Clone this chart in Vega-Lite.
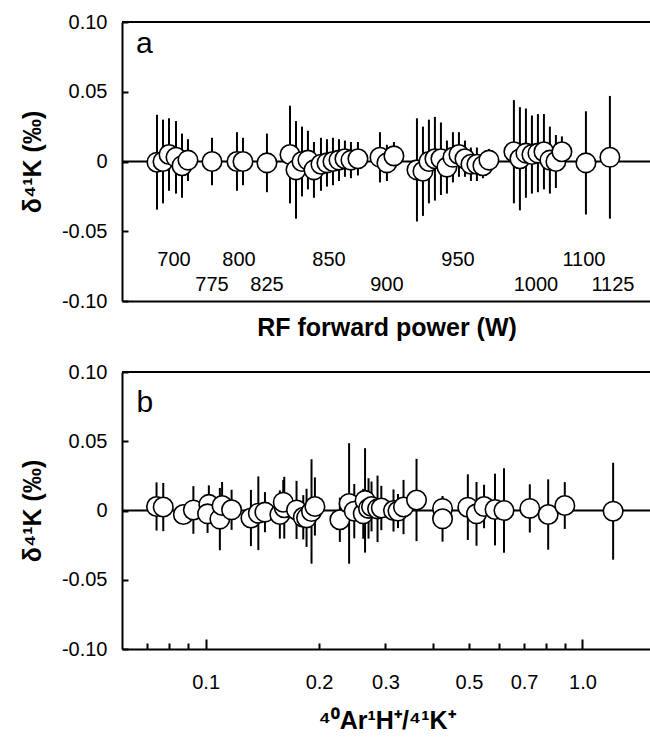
{
  "$schema": "https://vega.github.io/schema/vega-lite/v6.json",
  "background": "white",
  "padding": {"left": 20, "top": 12, "right": 0, "bottom": 0},
  "spacing": 22,
  "config": {
    "font": "Liberation Sans",
    "view": {"stroke": null},
    "axis": {
      "grid": false,
      "domainColor": "black",
      "domainWidth": 2,
      "tickColor": "black",
      "tickWidth": 2,
      "labelColor": "black",
      "titleColor": "black",
      "labelFont": "Liberation Sans",
      "titleFont": "Liberation Sans",
      "labelFontSize": 20,
      "titleFontSize": 25,
      "titleFontWeight": "bold"
    }
  },
  "datasets": {
    "pa": [
      {"run": 6.64, "d": -0.0005, "e": 0.034},
      {"run": 7.78, "d": 0.0, "e": 0.030},
      {"run": 8.92, "d": 0.005, "e": 0.026},
      {"run": 10.25, "d": 0.003, "e": 0.026},
      {"run": 11.39, "d": -0.003, "e": 0.023},
      {"run": 12.52, "d": 0.001, "e": 0.015},
      {"run": 17.08, "d": 0.0, "e": 0.017},
      {"run": 21.82, "d": 0.0, "e": 0.021},
      {"run": 22.96, "d": 0.0, "e": 0.017},
      {"run": 27.51, "d": -0.001, "e": 0.021},
      {"run": 31.88, "d": 0.005, "e": 0.035},
      {"run": 33.02, "d": -0.006, "e": 0.035},
      {"run": 34.16, "d": 0.0, "e": 0.025},
      {"run": 35.29, "d": 0.001, "e": 0.021},
      {"run": 36.43, "d": -0.006, "e": 0.020},
      {"run": 37.76, "d": -0.002, "e": 0.019},
      {"run": 38.90, "d": -0.001, "e": 0.017},
      {"run": 40.04, "d": 0.0, "e": 0.017},
      {"run": 41.18, "d": 0.001, "e": 0.015},
      {"run": 42.31, "d": 0.002, "e": 0.013},
      {"run": 43.45, "d": 0.001, "e": 0.013},
      {"run": 44.78, "d": 0.002, "e": 0.012},
      {"run": 48.96, "d": 0.003, "e": 0.018},
      {"run": 50.28, "d": -0.001, "e": 0.013},
      {"run": 51.61, "d": 0.004, "e": 0.010},
      {"run": 55.98, "d": -0.006, "e": 0.037},
      {"run": 57.12, "d": -0.007, "e": 0.032},
      {"run": 58.25, "d": 0.0, "e": 0.030},
      {"run": 59.39, "d": 0.002, "e": 0.030},
      {"run": 60.53, "d": 0.002, "e": 0.026},
      {"run": 61.67, "d": -0.004, "e": 0.019},
      {"run": 62.81, "d": 0.003, "e": 0.018},
      {"run": 63.95, "d": 0.005, "e": 0.016},
      {"run": 65.09, "d": 0.002, "e": 0.013},
      {"run": 66.22, "d": -0.002, "e": 0.012},
      {"run": 67.36, "d": -0.002, "e": 0.012},
      {"run": 68.50, "d": -0.003, "e": 0.009},
      {"run": 69.64, "d": 0.001, "e": 0.008},
      {"run": 74.38, "d": 0.007, "e": 0.037},
      {"run": 75.52, "d": 0.002, "e": 0.037},
      {"run": 76.66, "d": 0.006, "e": 0.032},
      {"run": 77.80, "d": 0.005, "e": 0.028},
      {"run": 78.94, "d": 0.006, "e": 0.028},
      {"run": 80.08, "d": 0.007, "e": 0.027},
      {"run": 81.21, "d": 0.001, "e": 0.024},
      {"run": 82.35, "d": 0.0, "e": 0.019},
      {"run": 83.49, "d": 0.007, "e": 0.011},
      {"run": 88.05, "d": -0.001, "e": 0.037},
      {"run": 92.60, "d": 0.003, "e": 0.044}
    ],
    "palabels": [
      {"run": 9.87, "d": -0.0707, "power": "700"},
      {"run": 22.2, "d": -0.0707, "power": "800"},
      {"run": 39.28, "d": -0.0707, "power": "850"},
      {"run": 63.76, "d": -0.0707, "power": "950"},
      {"run": 87.67, "d": -0.0707, "power": "1100"},
      {"run": 17.08, "d": -0.0883, "power": "775"},
      {"run": 27.51, "d": -0.0883, "power": "825"},
      {"run": 50.28, "d": -0.0883, "power": "900"},
      {"run": 78.56, "d": -0.0883, "power": "1000"},
      {"run": 93.17, "d": -0.0883, "power": "1125"}
    ],
    "pb": [
      {"ratio": 0.0741, "d": 0.0029, "e": 0.0174},
      {"ratio": 0.0772, "d": 0.0025, "e": 0.0174},
      {"ratio": 0.0873, "d": -0.0029, "e": 0.006},
      {"ratio": 0.0928, "d": 0.0004, "e": 0.0172},
      {"ratio": 0.102, "d": 0.0044, "e": 0.0138},
      {"ratio": 0.1012, "d": -0.0024, "e": 0.0138},
      {"ratio": 0.1091, "d": -0.0062, "e": 0.0225},
      {"ratio": 0.1106, "d": 0.0036, "e": 0.017},
      {"ratio": 0.1172, "d": 0.0005, "e": 0.0145},
      {"ratio": 0.1319, "d": -0.0054, "e": 0.0203},
      {"ratio": 0.138, "d": -0.002, "e": 0.0266},
      {"ratio": 0.1437, "d": -0.0012, "e": 0.0145},
      {"ratio": 0.1574, "d": -0.0029, "e": 0.0174},
      {"ratio": 0.1617, "d": 0.002, "e": 0.0223},
      {"ratio": 0.1607, "d": 0.006, "e": 0.016},
      {"ratio": 0.1743, "d": 0.0004, "e": 0.021},
      {"ratio": 0.1816, "d": -0.0049, "e": 0.016},
      {"ratio": 0.1853, "d": -0.0053, "e": 0.021},
      {"ratio": 0.191, "d": -0.0007, "e": 0.0377},
      {"ratio": 0.195, "d": 0.0029, "e": 0.021},
      {"ratio": 0.2271, "d": -0.0067, "e": 0.016},
      {"ratio": 0.2403, "d": 0.0051, "e": 0.0435},
      {"ratio": 0.248, "d": -0.0005, "e": 0.0196},
      {"ratio": 0.262, "d": -0.0024, "e": 0.018},
      {"ratio": 0.2649, "d": 0.0073, "e": 0.0377},
      {"ratio": 0.2706, "d": 0.0015, "e": 0.0218},
      {"ratio": 0.2756, "d": 0.0029, "e": 0.018},
      {"ratio": 0.2859, "d": 0.0012, "e": 0.024},
      {"ratio": 0.2926, "d": 0.0018, "e": 0.016},
      {"ratio": 0.3152, "d": 0.0, "e": 0.0152},
      {"ratio": 0.324, "d": -0.0004, "e": 0.0123},
      {"ratio": 0.3351, "d": 0.0025, "e": 0.0196},
      {"ratio": 0.3628, "d": 0.0076, "e": 0.0297},
      {"ratio": 0.4253, "d": 0.0015, "e": 0.008},
      {"ratio": 0.4253, "d": -0.006, "e": 0.0165},
      {"ratio": 0.4964, "d": 0.0024, "e": 0.0237},
      {"ratio": 0.5234, "d": -0.0024, "e": 0.023},
      {"ratio": 0.5481, "d": 0.0029, "e": 0.0157},
      {"ratio": 0.5861, "d": 0.0007, "e": 0.0259},
      {"ratio": 0.6191, "d": 0.0, "e": 0.0305},
      {"ratio": 0.7249, "d": 0.0015, "e": 0.0174},
      {"ratio": 0.811, "d": -0.0029, "e": 0.0254},
      {"ratio": 0.8976, "d": 0.0036, "e": 0.0169},
      {"ratio": 1.206, "d": -0.0005, "e": 0.035}
    ]
  },
  "vconcat": [
    {
      "width": 529,
      "height": 279,
      "layer": [
        {
          "data": {"values": [{}]},
          "mark": {"type": "rule", "color": "black", "strokeWidth": 2},
          "encoding": {"y": {"datum": 0, "type": "quantitative", "scale": {"domain": [-0.1, 0.1], "nice": false},
            "axis": {"title": "δ⁴¹K (‰)", "values": [-0.1, -0.05, 0, 0.05, 0.1], "tickSize": -6, "labelPadding": 21, "titlePadding": 16, "labelExpr": "datum.value == 0 ? '0' : (datum.value < 0 ? '-' : '') + format(abs(datum.value), '.2f')"}}}
        },
        {
          "data": {"name": "pa"},
          "mark": {"type": "errorbar", "rule": {"stroke": "black", "strokeWidth": 2}},
          "encoding": {
            "x": {"field": "run", "type": "quantitative", "scale": {"domain": [0, 100.4], "nice": false},
              "axis": {"title": "RF forward power (W)", "labels": false, "ticks": false, "titlePadding": 14}},
            "y": {"field": "d", "type": "quantitative", "scale": {"domain": [-0.1, 0.1], "nice": false},
              "axis": {"title": "δ⁴¹K (‰)", "values": [-0.1, -0.05, 0, 0.05, 0.1], "tickSize": -6, "labelPadding": 21, "titlePadding": 16, "labelExpr": "datum.value == 0 ? '0' : (datum.value < 0 ? '-' : '') + format(abs(datum.value), '.2f')"}},
            "yError": {"field": "e"}
          }
        },
        {
          "data": {"name": "pa"},
          "mark": {"type": "point", "shape": "circle", "filled": true, "fill": "white", "stroke": "black", "strokeWidth": 1.6, "size": 380, "opacity": 1},
          "encoding": {
            "x": {"field": "run", "type": "quantitative", "scale": {"domain": [0, 100.4], "nice": false},
              "axis": {"title": "RF forward power (W)", "labels": false, "ticks": false, "titlePadding": 14}},
            "y": {"field": "d", "type": "quantitative", "scale": {"domain": [-0.1, 0.1], "nice": false},
              "axis": {"title": "δ⁴¹K (‰)", "values": [-0.1, -0.05, 0, 0.05, 0.1], "tickSize": -6, "labelPadding": 21, "titlePadding": 16, "labelExpr": "datum.value == 0 ? '0' : (datum.value < 0 ? '-' : '') + format(abs(datum.value), '.2f')"}}
          }
        },
        {
          "data": {"values": [{}]},
          "mark": {"type": "rule", "color": "black", "strokeWidth": 2},
          "encoding": {"y": {"datum": 0.1, "type": "quantitative",
            "axis": {"title": "δ⁴¹K (‰)", "values": [-0.1, -0.05, 0, 0.05, 0.1], "tickSize": -6, "labelPadding": 21, "titlePadding": 16, "labelExpr": "datum.value == 0 ? '0' : (datum.value < 0 ? '-' : '') + format(abs(datum.value), '.2f')"}}}
        },
        {
          "data": {"name": "palabels"},
          "mark": {"type": "text", "fontSize": 20, "color": "black", "align": "center", "baseline": "middle"},
          "encoding": {
            "x": {"field": "run", "type": "quantitative",
              "axis": {"title": "RF forward power (W)", "labels": false, "ticks": false, "titlePadding": 14}},
            "y": {"field": "d", "type": "quantitative",
              "axis": {"title": "δ⁴¹K (‰)", "values": [-0.1, -0.05, 0, 0.05, 0.1], "tickSize": -6, "labelPadding": 21, "titlePadding": 16, "labelExpr": "datum.value == 0 ? '0' : (datum.value < 0 ? '-' : '') + format(abs(datum.value), '.2f')"}},
            "text": {"field": "power"}
          }
        },
        {
          "data": {"values": [{"run": 2.66, "d": 0.0779, "panel": "a"}]},
          "mark": {"type": "text", "fontSize": 30, "color": "black", "align": "left", "baseline": "alphabetic"},
          "encoding": {
            "x": {"field": "run", "type": "quantitative",
              "axis": {"title": "RF forward power (W)", "labels": false, "ticks": false, "titlePadding": 14}},
            "y": {"field": "d", "type": "quantitative",
              "axis": {"title": "δ⁴¹K (‰)", "values": [-0.1, -0.05, 0, 0.05, 0.1], "tickSize": -6, "labelPadding": 21, "titlePadding": 16, "labelExpr": "datum.value == 0 ? '0' : (datum.value < 0 ? '-' : '') + format(abs(datum.value), '.2f')"}},
            "text": {"field": "panel"}
          }
        }
      ]
    },
    {
      "width": 529,
      "height": 277,
      "layer": [
        {
          "data": {"values": [{}]},
          "mark": {"type": "rule", "color": "black", "strokeWidth": 2},
          "encoding": {"y": {"datum": 0, "type": "quantitative", "scale": {"domain": [-0.1, 0.1], "nice": false},
            "axis": {"title": "δ⁴¹K (‰)", "values": [-0.1, -0.05, 0, 0.05, 0.1], "tickSize": -6, "labelPadding": 21, "titlePadding": 16, "labelExpr": "datum.value == 0 ? '0' : (datum.value < 0 ? '-' : '') + format(abs(datum.value), '.2f')"}}}
        },
        {
          "data": {"name": "pb"},
          "mark": {"type": "errorbar", "rule": {"stroke": "black", "strokeWidth": 2}},
          "encoding": {
            "x": {"field": "ratio", "type": "quantitative", "scale": {"type": "log", "domain": [0.06, 1.52], "nice": false},
              "axis": {"title": "⁴⁰Ar¹H⁺/⁴¹K⁺", "values": [0.07, 0.08, 0.09, 0.1, 0.2, 0.3, 0.4, 0.5, 0.6, 0.7, 0.8, 0.9, 1.0],
                "tickSize": {"condition": {"test": "datum.value == 0.1 || datum.value == 1", "value": -10}, "value": -6},
                "labelPadding": {"condition": {"test": "datum.value == 0.1 || datum.value == 1", "value": 33}, "value": 29},
                "titlePadding": 16, "labelFlush": false, "labelExpr": "indexof([0.1, 0.2, 0.3, 0.5, 0.7, 1], datum.value) >= 0 ? format(datum.value, '.1f') : ''"}},
            "y": {"field": "d", "type": "quantitative", "scale": {"domain": [-0.1, 0.1], "nice": false},
              "axis": {"title": "δ⁴¹K (‰)", "values": [-0.1, -0.05, 0, 0.05, 0.1], "tickSize": -6, "labelPadding": 21, "titlePadding": 16, "labelExpr": "datum.value == 0 ? '0' : (datum.value < 0 ? '-' : '') + format(abs(datum.value), '.2f')"}},
            "yError": {"field": "e"}
          }
        },
        {
          "data": {"name": "pb"},
          "mark": {"type": "point", "shape": "circle", "filled": true, "fill": "white", "stroke": "black", "strokeWidth": 1.6, "size": 380, "opacity": 1},
          "encoding": {
            "x": {"field": "ratio", "type": "quantitative", "scale": {"type": "log", "domain": [0.06, 1.52], "nice": false},
              "axis": {"title": "⁴⁰Ar¹H⁺/⁴¹K⁺", "values": [0.07, 0.08, 0.09, 0.1, 0.2, 0.3, 0.4, 0.5, 0.6, 0.7, 0.8, 0.9, 1.0],
                "tickSize": {"condition": {"test": "datum.value == 0.1 || datum.value == 1", "value": -10}, "value": -6},
                "labelPadding": {"condition": {"test": "datum.value == 0.1 || datum.value == 1", "value": 33}, "value": 29},
                "titlePadding": 16, "labelFlush": false, "labelExpr": "indexof([0.1, 0.2, 0.3, 0.5, 0.7, 1], datum.value) >= 0 ? format(datum.value, '.1f') : ''"}},
            "y": {"field": "d", "type": "quantitative", "scale": {"domain": [-0.1, 0.1], "nice": false},
              "axis": {"title": "δ⁴¹K (‰)", "values": [-0.1, -0.05, 0, 0.05, 0.1], "tickSize": -6, "labelPadding": 21, "titlePadding": 16, "labelExpr": "datum.value == 0 ? '0' : (datum.value < 0 ? '-' : '') + format(abs(datum.value), '.2f')"}}
          }
        },
        {
          "data": {"values": [{}]},
          "mark": {"type": "rule", "color": "black", "strokeWidth": 2},
          "encoding": {"y": {"datum": 0.1, "type": "quantitative",
            "axis": {"title": "δ⁴¹K (‰)", "values": [-0.1, -0.05, 0, 0.05, 0.1], "tickSize": -6, "labelPadding": 21, "titlePadding": 16, "labelExpr": "datum.value == 0 ? '0' : (datum.value < 0 ? '-' : '') + format(abs(datum.value), '.2f')"}}}
        },
        {
          "data": {"values": [{"ratio": 0.0656, "d": 0.0714, "panel": "b"}]},
          "mark": {"type": "text", "fontSize": 30, "color": "black", "align": "left", "baseline": "alphabetic"},
          "encoding": {
            "x": {"field": "ratio", "type": "quantitative",
              "axis": {"title": "⁴⁰Ar¹H⁺/⁴¹K⁺", "values": [0.07, 0.08, 0.09, 0.1, 0.2, 0.3, 0.4, 0.5, 0.6, 0.7, 0.8, 0.9, 1.0],
                "tickSize": {"condition": {"test": "datum.value == 0.1 || datum.value == 1", "value": -10}, "value": -6},
                "labelPadding": {"condition": {"test": "datum.value == 0.1 || datum.value == 1", "value": 33}, "value": 29},
                "titlePadding": 16, "labelFlush": false, "labelExpr": "indexof([0.1, 0.2, 0.3, 0.5, 0.7, 1], datum.value) >= 0 ? format(datum.value, '.1f') : ''"}},
            "y": {"field": "d", "type": "quantitative",
              "axis": {"title": "δ⁴¹K (‰)", "values": [-0.1, -0.05, 0, 0.05, 0.1], "tickSize": -6, "labelPadding": 21, "titlePadding": 16, "labelExpr": "datum.value == 0 ? '0' : (datum.value < 0 ? '-' : '') + format(abs(datum.value), '.2f')"}},
            "text": {"field": "panel"}
          }
        }
      ]
    }
  ]
}
